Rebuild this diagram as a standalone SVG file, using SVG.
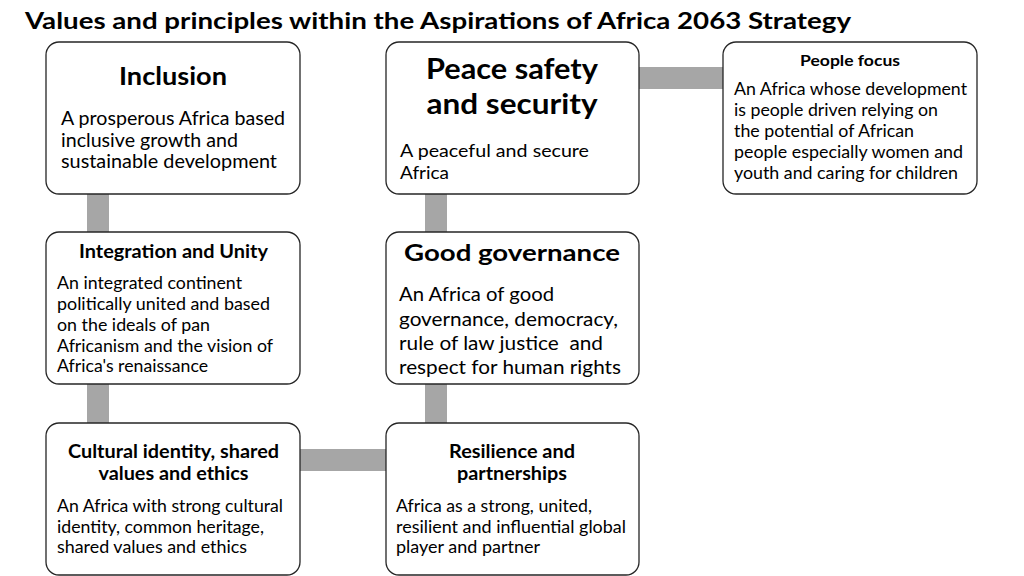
<svg xmlns="http://www.w3.org/2000/svg" width="1024" height="576" viewBox="0 0 1024 576">
<style>
  .box { fill: #ffffff; stroke: #262626; stroke-width: 1.3; }
  .bar { fill: #a6a6a6; }
  text { font-family: Lato, "Open Sans", sans-serif; fill: #000000; }
  .h { font-weight: bold; text-anchor: middle; }
  .title { font-weight: bold; font-size: 23px; }
</style>
<rect width="1024" height="576" fill="#ffffff"/>
<text class="title" x="25" y="29" textLength="826" lengthAdjust="spacingAndGlyphs">Values and principles within the Aspirations of Africa 2063 Strategy</text>

<g id="connectors">
  <rect class="bar" x="87" y="193" width="22" height="40"/>
  <rect class="bar" x="87" y="383" width="22" height="41"/>
  <rect class="bar" x="425" y="193" width="22" height="40"/>
  <rect class="bar" x="425" y="383" width="22" height="41"/>
  <rect class="bar" x="299" y="449" width="88" height="22"/>
  <rect class="bar" x="638" y="67" width="86" height="22"/>
</g>

<g id="inclusion">
  <rect class="box" x="46" y="42" width="254" height="152" rx="13"/>
  <text class="h" x="173" y="85" font-size="25" textLength="108" lengthAdjust="spacingAndGlyphs">Inclusion</text>
  <text x="61" y="125" font-size="18.5" textLength="224" lengthAdjust="spacingAndGlyphs">A prosperous Africa based</text>
  <text x="61" y="146.5" font-size="18.5" textLength="177" lengthAdjust="spacingAndGlyphs">inclusive growth and</text>
  <text x="61" y="168" font-size="18.5" textLength="216" lengthAdjust="spacingAndGlyphs">sustainable development</text>
</g>

<g id="peace">
  <rect class="box" x="386" y="42" width="253" height="152" rx="13"/>
  <text class="h" x="512" y="79" font-size="28" textLength="172" lengthAdjust="spacingAndGlyphs">Peace safety</text>
  <text class="h" x="512" y="114" font-size="28" textLength="171" lengthAdjust="spacingAndGlyphs">and security</text>
  <text x="400" y="157" font-size="18" textLength="189" lengthAdjust="spacingAndGlyphs">A peaceful and secure</text>
  <text x="400" y="179" font-size="18" textLength="49" lengthAdjust="spacingAndGlyphs">Africa</text>
</g>

<g id="people-focus">
  <rect class="box" x="723" y="42" width="254" height="152" rx="13"/>
  <text class="h" x="850" y="66" font-size="15.5" textLength="100" lengthAdjust="spacingAndGlyphs">People focus</text>
  <text x="734" y="95" font-size="16.5" textLength="233" lengthAdjust="spacingAndGlyphs">An Africa whose development</text>
  <text x="734" y="116" font-size="16.5" textLength="204" lengthAdjust="spacingAndGlyphs">is people driven relying on</text>
  <text x="734" y="137" font-size="16.5" textLength="180" lengthAdjust="spacingAndGlyphs">the potential of African</text>
  <text x="734" y="158" font-size="16.5" textLength="229" lengthAdjust="spacingAndGlyphs">people especially women and</text>
  <text x="734" y="179" font-size="16.5" textLength="224" lengthAdjust="spacingAndGlyphs">youth and caring for children</text>
</g>

<g id="integration">
  <rect class="box" x="46" y="232" width="254" height="152" rx="13"/>
  <text class="h" x="173.5" y="258" font-size="18.5" textLength="189" lengthAdjust="spacingAndGlyphs">Integration and Unity</text>
  <text x="57" y="289" font-size="16.5" textLength="185" lengthAdjust="spacingAndGlyphs">An integrated continent</text>
  <text x="57" y="310" font-size="16.5" textLength="213" lengthAdjust="spacingAndGlyphs">politically united and based</text>
  <text x="57" y="331" font-size="16.5" textLength="153" lengthAdjust="spacingAndGlyphs">on the ideals of pan</text>
  <text x="57" y="352" font-size="16.5" textLength="216" lengthAdjust="spacingAndGlyphs">Africanism and the vision of</text>
  <text x="57" y="372" font-size="16.5" textLength="151" lengthAdjust="spacingAndGlyphs">Africa's renaissance</text>
</g>

<g id="good-governance">
  <rect class="box" x="386" y="232" width="253" height="152" rx="13"/>
  <text class="h" x="512" y="261" font-size="23" textLength="216" lengthAdjust="spacingAndGlyphs">Good governance</text>
  <text x="399" y="301" font-size="18.5" textLength="155" lengthAdjust="spacingAndGlyphs">An Africa of good</text>
  <text x="399" y="325.5" font-size="18.5" textLength="219" lengthAdjust="spacingAndGlyphs">governance, democracy,</text>
  <text x="399" y="350" font-size="18.5" textLength="204" lengthAdjust="spacingAndGlyphs" xml:space="preserve">rule of law justice  and</text>
  <text x="399" y="374" font-size="18.5" textLength="222" lengthAdjust="spacingAndGlyphs">respect for human rights</text>
</g>

<g id="cultural-identity">
  <rect class="box" x="46" y="423" width="254" height="152" rx="13"/>
  <text class="h" x="173.5" y="458" font-size="18.5" textLength="211" lengthAdjust="spacingAndGlyphs">Cultural identity, shared</text>
  <text class="h" x="173.5" y="480" font-size="18.5" textLength="150" lengthAdjust="spacingAndGlyphs">values and ethics</text>
  <text x="57" y="512" font-size="16.5" textLength="226" lengthAdjust="spacingAndGlyphs">An Africa with strong cultural</text>
  <text x="57" y="533" font-size="16.5" textLength="207" lengthAdjust="spacingAndGlyphs">identity, common heritage,</text>
  <text x="57" y="553" font-size="16.5" textLength="190" lengthAdjust="spacingAndGlyphs">shared values and ethics</text>
</g>

<g id="resilience">
  <rect class="box" x="386" y="423" width="253" height="152" rx="13"/>
  <text class="h" x="512" y="458" font-size="18.5" textLength="126" lengthAdjust="spacingAndGlyphs">Resilience and</text>
  <text class="h" x="512" y="480" font-size="18.5" textLength="110" lengthAdjust="spacingAndGlyphs">partnerships</text>
  <text x="396" y="512" font-size="16.5" textLength="196" lengthAdjust="spacingAndGlyphs">Africa as a strong, united,</text>
  <text x="396" y="533" font-size="16.5" textLength="230" lengthAdjust="spacingAndGlyphs">resilient and influential global</text>
  <text x="396" y="553" font-size="16.5" textLength="144" lengthAdjust="spacingAndGlyphs">player and partner</text>
</g>
</svg>
